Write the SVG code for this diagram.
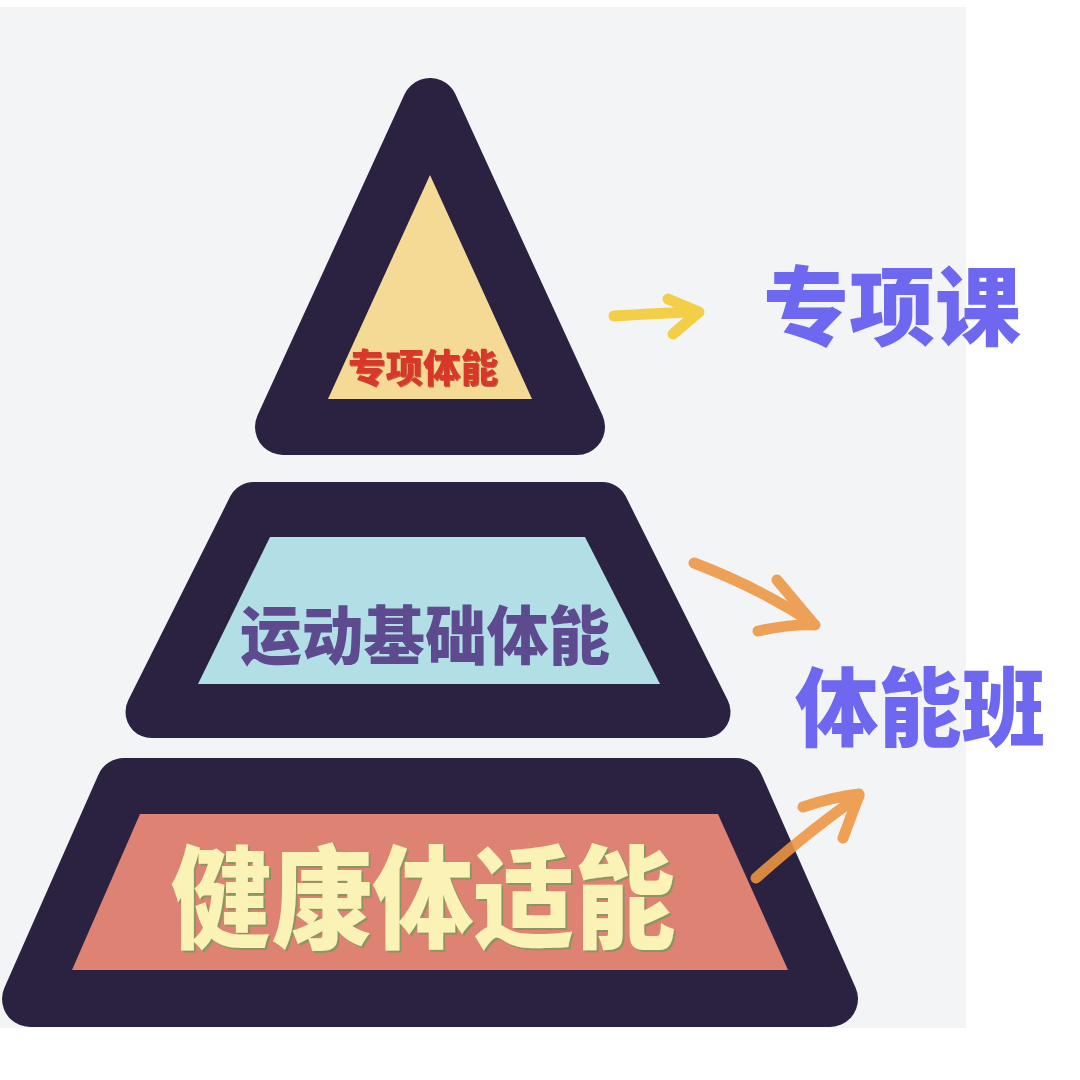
<svg xmlns="http://www.w3.org/2000/svg" width="1080" height="1080" viewBox="0 0 1080 1080">
  <defs>
    <style>
      .dark { fill: #2a2240; stroke: #2a2240; stroke-linejoin: round; }
      .cjk { font-family: "Noto Sans CJK SC", "Noto Sans CJK TC", sans-serif; font-weight: 900; text-anchor: middle; }
      .side { fill: #6e67f0; font-size: 86px; }
      .arrow { fill: none; stroke-linecap: round; stroke-linejoin: round; }
      .yellow { stroke: #f3cf47; stroke-width: 11; }
      .orange { stroke: #ee9640; stroke-width: 11; opacity: 0.88; }
    </style>
    <filter id="greenShadow" x="-5%" y="-5%" width="110%" height="115%">
      <feDropShadow dx="2" dy="2" stdDeviation="0.6" flood-color="#7d9a5c" flood-opacity="0.85"/>
    </filter>
    <filter id="redShadow" x="-5%" y="-5%" width="110%" height="115%">
      <feDropShadow dx="1" dy="1" stdDeviation="0.5" flood-color="#8a1f18" flood-opacity="0.6"/>
    </filter>
  </defs>

  <rect x="0" y="0" width="1080" height="1080" fill="#ffffff"/>
  <rect x="0" y="7" width="966" height="1021" fill="#f2f4f6"/>

  <g id="tier-top">
    <polygon class="dark" stroke-width="56" points="430,106 577,427 283,427"/>
    <polygon fill="#f5da95" points="430,175 532,399 328,399"/>
    <text class="cjk" x="423" y="382" font-size="39" fill="#d8392b" textLength="150" lengthAdjust="spacingAndGlyphs" filter="url(#redShadow)">专项体能</text>
  </g>

  <g id="tier-middle">
    <polygon class="dark" stroke-width="52" points="253.5,508 602.5,508 704.5,712 151.5,712"/>
    <polygon fill="#b1dfe5" points="270,537 585,537 660,684 198,684"/>
    <text class="cjk" x="425" y="659" font-size="64" fill="#5d4a8f" textLength="370" lengthAdjust="spacingAndGlyphs">运动基础体能</text>
  </g>

  <g id="tier-bottom">
    <polygon class="dark" stroke-width="56" points="124,786 736,786 830,999 30,999"/>
    <polygon fill="#de8373" points="140,814 718,814 788,970 72,970"/>
    <text class="cjk" x="423" y="940" font-size="112" fill="#fbf2b6" textLength="505" lengthAdjust="spacingAndGlyphs" filter="url(#greenShadow)">健康体适能</text>
  </g>

  <g id="label-zhuanxiangke">
    <text class="cjk side" x="892" y="339">专项课</text>
  </g>

  <g id="label-tinengban">
    <text class="cjk side" x="920" y="740" textLength="250" lengthAdjust="spacingAndGlyphs">体能班</text>
  </g>

  <g id="connectors">
    <g class="arrow yellow">
      <path d="M614,316 Q660,313 698,312"/>
      <path d="M668,299 L699,312 L673,334"/>
    </g>
    <g class="arrow orange">
      <path d="M694,563 Q760,588 814,624"/>
      <path d="M777,580 L813,623"/>
      <path d="M758,631 Q790,624 815,625"/>
    </g>
    <g class="arrow orange">
      <path d="M756,878 Q810,830 859,796"/>
      <path d="M803,807 Q832,797 859,794"/>
      <path d="M843,838 L858,798"/>
    </g>
  </g>
</svg>
